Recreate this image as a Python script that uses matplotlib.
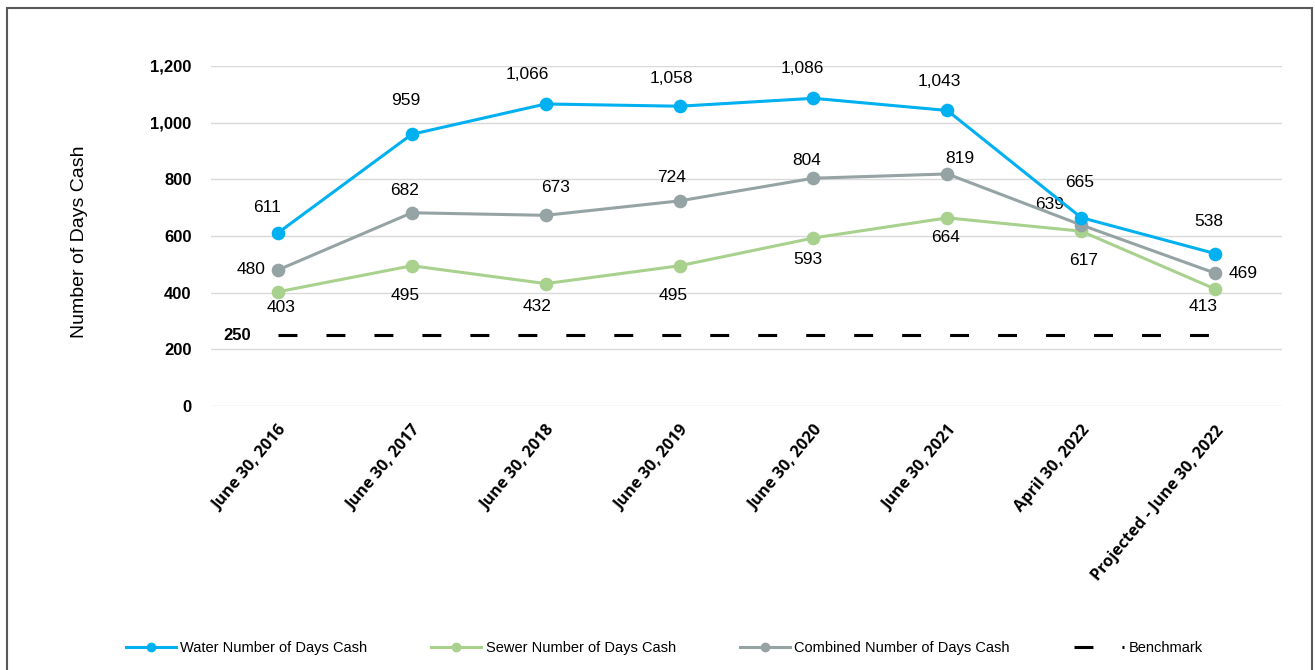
import matplotlib.pyplot as plt
from matplotlib.lines import Line2D
from matplotlib.patches import Rectangle

categories = [
    "June 30, 2016", "June 30, 2017", "June 30, 2018", "June 30, 2019",
    "June 30, 2020", "June 30, 2021", "April 30, 2022", "Projected - June 30, 2022",
]
water = [611, 959, 1066, 1058, 1086, 1043, 665, 538]
sewer = [403, 495, 432, 495, 593, 664, 617, 413]
combined = [480, 682, 673, 724, 804, 819, 639, 469]
benchmark = [250] * len(categories)

# label offsets in pixels (dx, dy), matching the reference placement
water_off = [(-11, 25), (-6, 34), (-18, 29), (-8, 28), (-11, 30), (-8, 29), (-2, 35), (-6, 32)]
sewer_off = [(3, -16), (-7, -30), (-9, -23), (-6, -30), (-6, -22), (-2, -20), (2, -29), (-12, -18)]
comb_off = [(-27, 0), (-7, 22), (10, 28), (-8, 23), (-7, 18), (12, 15), (-32, 20), (28, 0)]

blue = "#00B0F0"
green = "#A9D18E"
grey = "#95A3A4"

fig = plt.figure(figsize=(13.15, 6.7), dpi=100)
ax = fig.add_axes([211 / 1315, 1 - 406 / 670, (1282 - 211) / 1315, 340 / 670])

x = list(range(len(categories)))

ax.plot(x, benchmark, color="black", lw=2.2, dashes=(6.2, 9.5), zorder=2)
ax.plot(x, sewer, color=green, lw=2.2, marker="o", ms=8.8, zorder=3, clip_on=False)
ax.plot(x, combined, color=grey, lw=2.2, marker="o", ms=8.8, zorder=4, clip_on=False)
ax.plot(x, water, color=blue, lw=2.2, marker="o", ms=8.8, zorder=5, clip_on=False)

px = 0.72
for vals, offs in [(water, water_off), (sewer, sewer_off), (combined, comb_off)]:
    for i, (v, (dx, dy)) in enumerate(zip(vals, offs)):
        ax.annotate(f"{v:,}", (i, v), xytext=(dx * px, dy * px),
                    textcoords="offset points", ha="center", va="center",
                    fontsize=12.5, family="Liberation Sans", color="black")

ax.annotate(f"{benchmark[0]}", (0, benchmark[0]), xytext=(-41 * px, 0),
            textcoords="offset points", ha="center", va="center",
            fontsize=12, fontweight="bold", family="Liberation Sans")

ax.set_xlim(-0.5, len(categories) - 0.5)
ax.set_ylim(0, 1200)
ax.set_yticks(range(0, 1201, 200))
ax.set_yticklabels([f"{v:,}" for v in range(0, 1201, 200)],
                   fontsize=12, fontweight="bold", family="Liberation Sans")
ax.set_xticks(x)
ax.set_xticklabels(categories, rotation=50, ha="right", rotation_mode="anchor",
                   fontsize=11.7, fontweight="bold", family="Open Sans")
ax.tick_params(axis="both", length=0)
ax.tick_params(axis="y", pad=14)
ax.tick_params(axis="x", pad=12)

ax.grid(axis="y", color="#d9d9d9", lw=1)
ax.set_axisbelow(True)
for s in ax.spines.values():
    s.set_visible(False)

fig.text(79 / 1315, 1 - 242 / 670, "Number of Days Cash", rotation=90,
         ha="center", va="center", fontsize=14, family="Liberation Sans")

handles = [
    Line2D([], [], color=blue, lw=2.2, marker="o", ms=6),
    Line2D([], [], color=green, lw=2.2, marker="o", ms=6),
    Line2D([], [], color=grey, lw=2.2, marker="o", ms=6),
    Line2D([], [], color="black", lw=2.2, dashes=(6.2, 9.5)),
]
labels = ["Water Number of Days Cash", "Sewer Number of Days Cash",
          "Combined Number of Days Cash", "Benchmark"]
fig.legend(handles, labels, loc="center", bbox_to_anchor=(664 / 1315, 1 - 648 / 670),
           ncol=4, frameon=False, handlelength=3.43, handletextpad=0.3,
           columnspacing=4.4, prop={"family": "Liberation Sans", "size": 10.5})

fig.patches.append(Rectangle((7 / 1315, -0.05), (1312 - 7) / 1315, 1.05 - 8 / 670,
                             transform=fig.transFigure, fill=False,
                             edgecolor="#595959", lw=1.5))

fig.savefig("out.png", dpi=100)
